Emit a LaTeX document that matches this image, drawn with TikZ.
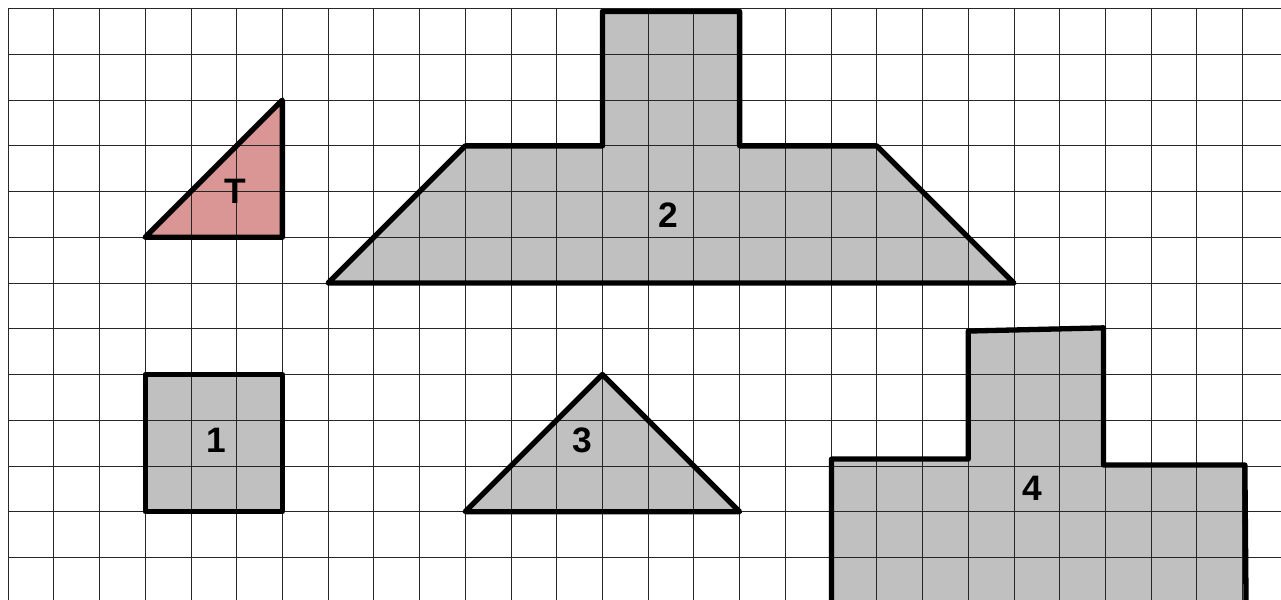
\documentclass[tikz,border=0pt]{standalone}
\usepackage{fontspec}
\setmainfont{Liberation Sans}
\usetikzlibrary{calc}

\definecolor{shapegray}{HTML}{C0C0C0}
\definecolor{shapepink}{HTML}{D99694}

\tikzset{
    outline/.style={line width=3.3pt, line join=round},
    gridline/.style={black!85, line width=0.5pt},
    numlabel/.style={font=\fontsize{22}{26}\bfseries\selectfont, inner sep=0pt}
}

\begin{document}
\begin{tikzpicture}
    \useasboundingbox (-0.175,0.19) rectangle (27.84,-12.91);
    \clip (-0.175,0.19) rectangle (27.84,-12.91);
    \fill[white] (-0.175,0.19) rectangle (27.84,-12.91);
    % shapes
    \fill[shapepink] (3,-5) -- (6,-5) -- (6,-2) -- cycle;
    \fill[shapegray] (7,-6) -- (22,-6) -- (19,-3) -- (16,-3) -- (16,-0.06) -- (13,-0.06) -- (13,-3) -- (10,-3) -- cycle;
    \fill[shapegray] (3,-8) rectangle (6,-11);
    \fill[shapegray] (10,-11) -- (16,-11) -- (13,-8) -- cycle;
    \fill[shapegray] (18.01,-13.5) -- (18.01,-9.85) -- (21,-9.85) -- (21,-7.05) -- (23.96,-6.98) -- (23.96,-9.98) -- (27.05,-9.98) -- (27.08,-13.5) -- cycle;
    % grid
    \draw[gridline] (0,-13) grid (28,0);
    % outlines
    \draw[outline] (3,-5) coordinate (T1) -- (6,-5) coordinate (T2) -- (6,-2) coordinate (T3) -- cycle;
    \draw[outline] (7,-6) -- (22,-6) -- (19,-3) -- (16,-3) -- (16,-0.06) -- (13,-0.06) -- (13,-3) -- (10,-3) -- cycle;
    \draw[outline] (3,-8) rectangle (6,-11);
    \draw[outline] (10,-11) -- (16,-11) -- (13,-8) -- cycle;
    \draw[outline] (18.01,-13.5) -- (18.01,-9.85) -- (21,-9.85) -- (21,-7.05) -- (23.96,-6.98) -- (23.96,-9.98) -- (27.05,-9.98) -- (27.08,-13.5);
    % labels
    \node[numlabel] (labT) at (4.98,-4.0) {T};
    \node[numlabel] (lab2) at (14.44,-4.51) {2};
    \node[numlabel] (lab1) at (4.55,-9.44) {1};
    \node[numlabel] (lab3) at (12.56,-9.45) {3};
    \node[numlabel] (lab4) at (22.4,-10.48) {4};
\end{tikzpicture}
\end{document}
